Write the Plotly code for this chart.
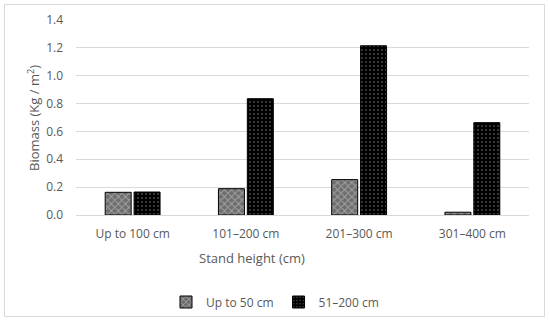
import plotly.graph_objects as go

categories = ["Up to 100 cm", "101–200 cm", "201–300 cm", "301–400 cm"]
series_names = ["Up to 50 cm", "51–200 cm"]
up_to_50 = [0.163, 0.189, 0.254, 0.02]
s51_200 = [0.165, 0.835, 1.215, 0.663]
y_ticks = [0.0, 0.2, 0.4, 0.6, 0.8, 1.0, 1.2, 1.4]

W, H = 550, 321
L, R, T, B = 76, 21, 20, 106
pw, ph = W - L - R, H - T - B

def px_x(x):
    return (x - L) / pw

def px_y(y):
    return (H - B - y) / ph

font_fam = "Open Sans, Noto Sans, sans-serif"
tick_color = "#595959"

fig = go.Figure()
fig.add_trace(go.Bar(
    x=categories, y=up_to_50, name=series_names[0],
    marker=dict(color="#7a7a7a",
                pattern=dict(shape="x", fgcolor="#d8d8d8", bgcolor="#6e6e6e", size=5, solidity=0.35),
                line=dict(color="black", width=1)),
))
fig.add_trace(go.Bar(
    x=categories, y=s51_200, name=series_names[1],
    marker=dict(color="black",
                pattern=dict(shape=".", fgcolor="white", bgcolor="black", size=4, solidity=0.12),
                line=dict(color="black", width=1)),
))

fig.update_layout(
    width=W, height=H,
    margin=dict(l=L, r=R, t=T, b=B, pad=0, autoexpand=False),
    paper_bgcolor="white", plot_bgcolor="white",
    barmode="group", bargap=0.49, bargroupgap=0.1,
    font=dict(family=font_fam, size=12, color=tick_color),
    showlegend=True,
    legend=dict(orientation="h", x=0.5, xref="container", xanchor="center",
                y=1 - 302 / H, yref="container", yanchor="middle",
                font=dict(size=12, color=tick_color),
                traceorder="normal", bgcolor="rgba(0,0,0,0)"),
    xaxis=dict(showgrid=False, showline=True, linecolor="#d9d9d9", linewidth=1,
               ticks="", tickfont=dict(size=12, color=tick_color), ticklabelstandoff=8,
               tickangle=0, automargin=False),
    yaxis=dict(range=[0, 1.4], tickvals=y_ticks, tickformat=".1f",
               showgrid=True, gridcolor="#d9d9d9", gridwidth=1,
               zeroline=False, showline=False, ticks="", automargin=False,
               tickfont=dict(size=12, color=tick_color), ticklabelstandoff=12),
    annotations=[
        dict(text="Stand height (cm)", x=px_x(252), y=px_y(258), xref="paper", yref="paper",
             showarrow=False, xanchor="center", yanchor="middle",
             font=dict(size=13, color=tick_color)),
        dict(text="Biomass (Kg / m<sup>2</sup>)", x=px_x(33), y=px_y(118), xref="paper", yref="paper",
             showarrow=False, xanchor="center", yanchor="middle", textangle=-90,
             font=dict(size=13, color=tick_color)),
    ],
    shapes=[
        dict(type="rect", xref="paper", yref="paper",
             x0=px_x(4.5), x1=px_x(544.5), y0=px_y(316.5), y1=px_y(4.5),
             line=dict(color="#d9d9d9", width=1), fillcolor="rgba(0,0,0,0)", layer="below"),
    ],
)

fig.write_html("out.html",
               config={"displayModeBar": False},
               post_script="document.body.style.margin='0';document.body.style.padding='0';")
